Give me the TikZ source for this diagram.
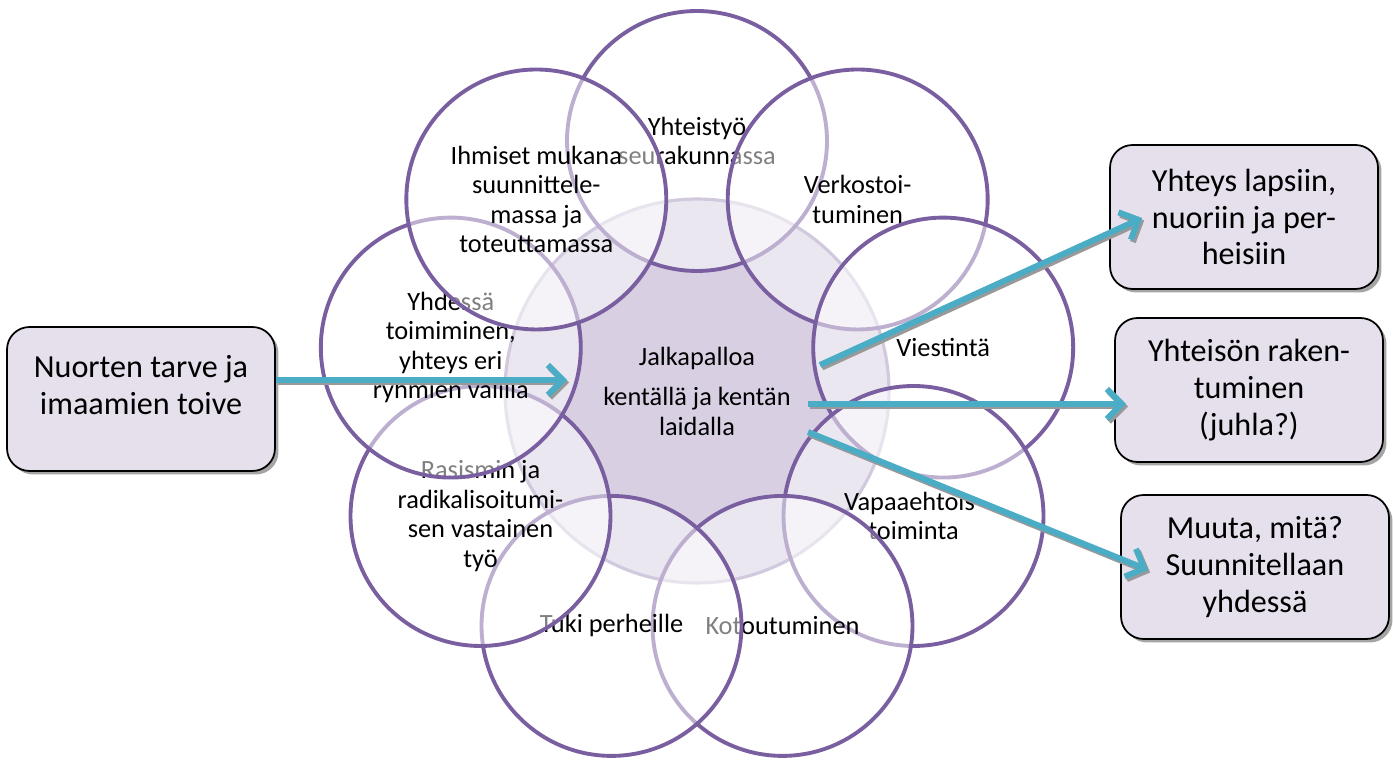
\documentclass[tikz,border=0pt]{standalone}
\usepackage{fontspec}
\setmainfont{Carlito}
\usepackage{tikz}
\usetikzlibrary{arrows.meta,positioning,calc,shadows}
\definecolor{RingPurple}{HTML}{7A5FA0}
\definecolor{HubLilac}{HTML}{D8CFE3}
\definecolor{HubEdge}{HTML}{A393BC}
\definecolor{BoxLilac}{HTML}{E5E0EC}
\definecolor{FlowTeal}{HTML}{4BACC6}

\begin{document}
\begin{tikzpicture}[x=0.02cm,y=0.02cm,
  petal/.style={circle, draw=RingPurple, line width=2.2pt, fill=white, fill opacity=0.5, text opacity=1,
    minimum size=5.2cm, inner sep=0pt, align=center, font=\fontsize{15}{16.8}\selectfont},
  hub/.style={circle, draw=HubEdge, line width=1.8pt, fill=HubLilac, minimum size=7.68cm,
    align=center, font=\fontsize{15}{16.8}\selectfont},
  goalbox/.style={rectangle, rounded corners=0.45cm, draw=black, line width=1pt, fill=BoxLilac,
    minimum width=5.36cm, minimum height=2.88cm, align=center, font=\fontsize{18.3}{21}\selectfont,
    drop shadow={shadow xshift=0.07cm, shadow yshift=-0.07cm, fill=black!50, opacity=0.7}},
  flow/.style={FlowTeal, line width=3.4pt, -{Straight Barb[length=0.3cm, width=0.6cm]}},
  flowshadow/.style={black!40, line width=3.4pt, -{Straight Barb[length=0.3cm, width=0.6cm]}}]
  \fill[white] (0,0) rectangle (1393,764);
  \useasboundingbox (0,0) rectangle (1393,764);

  \node[hub] (hub) at (697,373) {Jalkapalloa\\[0.22cm]kentällä ja kentän\\laidalla};
  \foreach \a/\n/\t in {90/yhteistyo/{Yhteistyö\\seurakunnassa}, 50/verkosto/{Verkostoi-\\tuminen},
      10/viestinta/{Viestintä}, -30/vapaa/{Vapaaehtois-\\toiminta}, -70/koto/{Kotoutuminen},
      -110/tuki/{Tuki perheille}, -150/rasismi/{Rasismin ja\\radikalisoitumi-\\sen vastainen\\työ},
      -190/yhdessa/{Yhdessä\\toimiminen,\\yhteys eri\\ryhmien välillä},
      -230/ihmiset/{Ihmiset mukana\\suunnittele-\\massa ja\\toteuttamassa}}
    \node[petal] (\n) at ($(hub)+(\a:250)$) {\t};

  \node[goalbox, text depth=0.56cm] (need) at (141,365) {Nuorten tarve ja\\imaamien toive};
  \node[goalbox] (yhteys) at (1244,547) {Yhteys lapsiin,\\nuoriin ja per-\\heisiin};
  \node[goalbox] (rakenne) at (1249,374) {Yhteisön raken-\\tuminen\\(juhla?)};
  \node[goalbox] (muuta) at (1255,197) {Muuta, mitä?\\Suunnitellaan\\yhdessä};

  \coordinate (in0) at ($(need.east)+(0,19)$);
  \coordinate (out0) at ($(hub)+(-130,11)$);
  \coordinate (in1) at ($(hub)+(123,26)$);
  \coordinate (out1) at ($(yhteys.west)+(33,-1)$);
  \coordinate (in2) at ($(hub)+(111,-13)$);
  \coordinate (out2) at ($(rakenne.west)+(12,-14)$);
  \coordinate (in3) at ($(hub)+(111,-41)$);
  \coordinate (out3) at ($(muuta.west)+(28,-3)$);
  \foreach \s/\e in {in0/out0, in1/out1, in2/out2, in3/out3}{
    \draw[flowshadow, transform canvas={shift={(0.04cm,-0.05cm)}}] (\s) -- (\e);
    \draw[flow] (\s) -- (\e);
  }
\end{tikzpicture}
\end{document}
